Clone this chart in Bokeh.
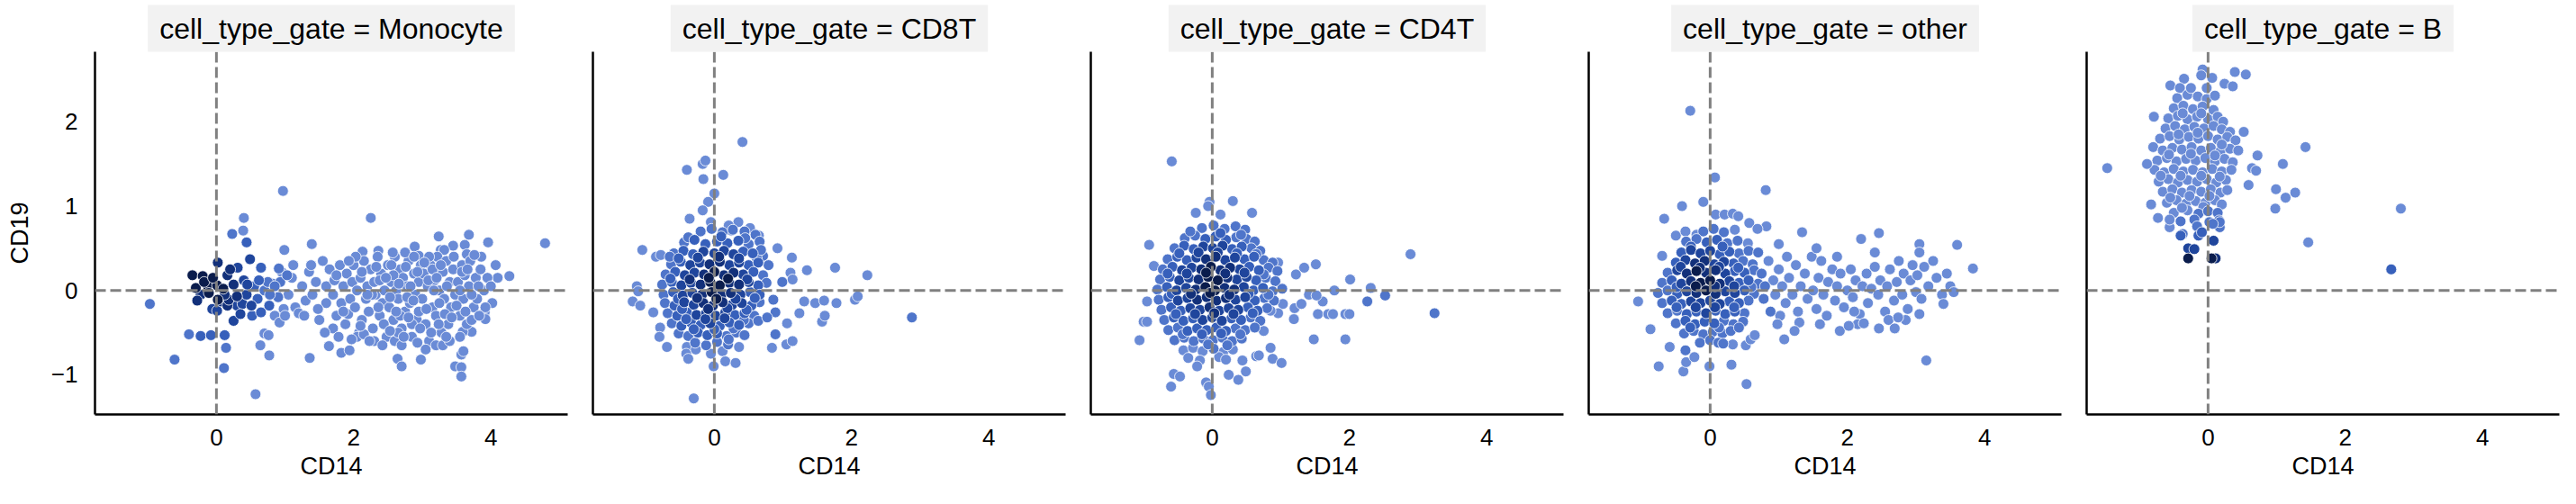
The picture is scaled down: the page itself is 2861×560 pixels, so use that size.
from bokeh.plotting import figure
from bokeh.models import ColumnDataSource, Span, FixedTicker, Range1d
from bokeh.layouts import row
from bokeh.embed import file_html
from bokeh.resources import INLINE

# ---------------- data ----------------
PANELS = ["Monocyte", "CD8T", "CD4T", "other", "B"]
X_LABEL = "CD14"
Y_LABEL = "CD19"
X_TICKS = [0, 2, 4]
Y_TICKS = [-1, 0, 1, 2]
X_LIMITS = (-1.77, 5.12)
Y_LIMITS = (-1.47, 2.83)
# colour level of each point: 0 = light ... 5 = darkest
HUE_COLORS = ["#6a8bd6", "#4f75ca", "#3760bb", "#1f459c", "#12307a", "#0a1c4c"]

# (CD14, CD19, colour level)
monocyte_pts = [
    (-0.35, 0.18, 5), (-0.20, 0.17, 5), (-0.30, 0.03, 5), (-0.13, 0.06, 5), (0.02, 0.33, 4),
    (0.16, 0.18, 4), (0.31, 0.27, 3), (0.49, 0.37, 3), (0.65, 0.27, 2), (0.25, 0.07, 4),
    (0.40, 0.12, 3), (0.01, 0.06, 5), (-0.11, -0.03, 5), (-0.23, -0.05, 4), (0.02, -0.11, 5),
    (0.07, -0.13, 4), (-0.06, -0.22, 3), (0.01, -0.24, 3), (0.16, -0.18, 4), (0.30, -0.18, 3),
    (0.38, -0.16, 3), (0.51, -0.18, 3), (0.25, -0.36, 3), (0.18, -0.11, 4), (0.44, -0.05, 3),
    (0.52, -0.30, 2), (0.65, -0.26, 2), (0.77, -0.18, 2), (0.90, -0.07, 1), (0.30, -0.07, 4),
    (0.45, 0.07, 3), (0.82, 0.08, 1), (0.93, 0.10, 1), (0.91, 0.26, 1), (1.03, 0.18, 1),
    (0.55, 0.05, 2), (0.60, -0.10, 2), (0.70, 0.00, 1), (0.62, 0.12, 2), (-0.18, 0.10, 5),
    (0.10, 0.02, 5), (-0.05, 0.15, 5), (0.12, -0.05, 4), (-0.28, -0.12, 4), (0.20, 0.25, 4),
    (0.35, -0.28, 3),
    (-0.97, -0.16, 1), (-0.61, -0.82, 1), (-0.40, -0.52, 1), (-0.23, -0.54, 2), (-0.08, -0.53, 2),
    (0.12, -0.53, 2), (0.14, -0.68, 1), (0.11, -0.92, 1), (0.57, -1.23, 0), (0.40, 0.86, 0),
    (0.39, 0.71, 0), (0.23, 0.67, 1), (0.44, 0.57, 2), (0.97, 1.18, 0), (0.99, 0.48, 0),
    (1.39, 0.55, 0), (2.25, 0.86, 0), (4.79, 0.56, 0), (0.64, -0.65, 0), (0.77, -0.77, 0),
    (0.70, -0.51, 0), (0.76, -0.53, 0), (1.36, -0.80, 0), (1.64, -0.66, 0), (1.82, -0.74, 0),
    (1.94, -0.71, 0), (2.64, -0.81, 0), (2.70, -0.90, 0), (2.98, -0.82, 0), (3.48, -0.90, 0),
    (3.57, -0.91, 0), (3.57, -1.02, 0), (3.57, -0.76, 0), (3.24, 0.64, 0), (3.68, 0.66, 0),
    (3.96, 0.57, 0), (3.45, 0.53, 0), (3.62, 0.54, 0), (3.86, 0.40, 0), (4.07, 0.30, 0),
    (4.27, 0.17, 0), (4.10, 0.15, 0), (4.02, -0.15, 0), (3.91, -0.26, 0), (3.92, -0.34, 0),
    (3.72, -0.49, 0), (3.59, -0.49, 0), (2.89, 0.52, 0), (2.36, 0.47, 0), (2.13, 0.46, 0),
    (2.95, 0.41, 0), (3.27, 0.48, 0), (3.32, 0.48, 0), (3.65, 0.43, 0),
    (0.75, 0.10, 1), (0.85, 0.05, 1), (0.90, -0.08, 1), (0.78, -0.05, 1), (0.95, 0.22, 0),
    (0.98, -0.22, 0), (0.85, -0.30, 0), (0.92, -0.38, 0),
    (1.05, -0.05, 0), (1.10, 0.15, 0), (1.15, -0.20, 0), (1.20, -0.27, 0), (1.25, 0.05, 0),
    (1.30, -0.12, 0), (1.35, 0.22, 0), (1.40, -0.05, 0), (1.45, 0.10, 0), (1.50, -0.35, 0),
    (1.55, 0.35, 0), (1.60, -0.15, 0), (1.60, 0.05, 0), (1.00, -0.30, 0), (1.12, 0.30, 0),
    (1.28, -0.30, 0), (1.48, -0.22, 0), (1.38, 0.30, 0),
    (1.65, 0.25, 0), (1.70, -0.05, 0), (1.72, 0.12, 0), (1.75, -0.30, 0), (1.80, 0.30, 0),
    (1.82, -0.15, 0), (1.85, 0.05, 0), (1.88, -0.40, 0), (1.90, 0.20, 0), (1.95, -0.10, 0),
    (1.98, 0.10, 0), (1.70, -0.45, 0), (1.78, -0.55, 0), (1.92, -0.28, 0),
    (2.00, 0.30, 0), (2.02, -0.20, 0), (2.05, 0.00, 0), (2.08, -0.50, 0), (2.10, 0.15, 0),
    (2.12, -0.35, 0), (2.15, 0.35, 0), (2.18, -0.10, 0), (2.20, 0.05, 0), (2.22, -0.25, 0),
    (2.25, 0.25, 0), (2.28, -0.45, 0), (2.30, 0.10, 0), (2.32, -0.05, 0), (2.35, 0.40, 0),
    (2.38, -0.30, 0), (2.40, 0.20, 0), (2.42, -0.15, 0), (2.45, 0.00, 0), (2.48, -0.55, 0),
    (2.50, 0.30, 0), (2.05, -0.55, 0), (2.15, -0.52, 0), (2.30, -0.60, 0), (2.42, -0.65, 0),
    (2.12, 0.22, 0), (2.27, -0.05, 0), (2.38, 0.12, 0),
    (2.52, -0.20, 0), (2.55, 0.10, 0), (2.58, -0.35, 0), (2.60, 0.40, 0), (2.62, 0.00, 0),
    (2.65, -0.10, 0), (2.68, 0.25, 0), (2.70, -0.45, 0), (2.72, 0.15, 0), (2.75, -0.25, 0),
    (2.78, 0.05, 0), (2.80, 0.35, 0), (2.82, -0.15, 0), (2.85, -0.55, 0), (2.88, 0.20, 0),
    (2.90, -0.05, 0), (2.92, -0.35, 0), (2.95, 0.10, 0), (2.98, 0.30, 0), (2.60, -0.60, 0),
    (2.70, -0.65, 0), (2.55, 0.30, 0), (2.65, -0.50, 0), (2.75, 0.45, 0), (2.85, -0.40, 0),
    (2.95, -0.25, 0), (2.58, 0.18, 0), (2.68, -0.30, 0), (2.78, -0.08, 0), (2.88, 0.40, 0),
    (3.00, -0.10, 0), (3.02, 0.20, 0), (3.05, -0.40, 0), (3.08, 0.05, 0), (3.10, -0.60, 0),
    (3.12, 0.30, 0), (3.15, -0.20, 0), (3.18, 0.12, 0), (3.20, -0.30, 0), (3.22, 0.40, 0),
    (3.25, 0.00, 0), (3.28, -0.50, 0), (3.30, 0.22, 0), (3.32, -0.10, 0), (3.35, 0.35, 0),
    (3.38, -0.40, 0), (3.40, 0.10, 0), (3.42, -0.20, 0), (3.45, 0.25, 0), (3.48, -0.05, 0),
    (3.05, -0.70, 0), (3.10, 0.40, 0), (3.20, -0.65, 0), (3.30, -0.65, 0), (3.40, -0.60, 0),
    (3.15, 0.25, 0), (3.25, -0.15, 0),
    (3.52, 0.10, 0), (3.55, -0.30, 0), (3.58, 0.30, 0), (3.60, -0.10, 0), (3.62, 0.18, 0),
    (3.65, -0.40, 0), (3.68, 0.05, 0), (3.70, 0.35, 0), (3.75, -0.20, 0), (3.78, 0.15, 0),
    (3.80, -0.10, 0), (3.85, 0.25, 0), (3.90, 0.00, 0), (3.92, -0.20, 0), (3.95, 0.15, 0),
    (4.00, 0.05, 0), (3.55, -0.55, 0), (3.72, -0.35, 0), (3.82, 0.05, 0), (3.60, -0.72, 0),
    (3.58, 0.22, 0),
    (2.03, 0.40, 0), (2.10, -0.42, 0), (2.20, -0.05, 0), (2.33, 0.28, 0), (2.36, -0.20, 0),
    (2.44, -0.40, 0), (2.47, 0.15, 0), (2.53, -0.08, 0), (2.57, 0.45, 0), (2.62, -0.25, 0),
    (2.66, 0.08, 0), (2.73, -0.55, 0), (2.76, 0.28, 0), (2.80, -0.32, 0), (2.83, 0.05, 0),
    (2.87, -0.12, 0), (2.93, 0.22, 0), (2.97, -0.45, 0), (3.03, 0.33, 0), (3.06, -0.22, 0),
    (3.09, 0.12, 0), (3.13, -0.50, 0), (3.17, 0.00, 0), (3.21, 0.15, 0), (3.24, -0.40, 0),
    (3.27, 0.30, 0), (3.33, -0.28, 0), (3.36, 0.05, 0), (3.43, -0.32, 0), (3.46, 0.40, 0),
    (3.50, -0.18, 0), (3.55, 0.00, 0), (3.63, -0.25, 0), (3.66, 0.25, 0), (3.72, -0.05, 0),
    (3.76, 0.42, 0), (3.83, -0.30, 0), (1.75, 0.18, 0), (1.85, -0.25, 0), (1.93, 0.35, 0),
    (2.23, -0.60, 0), (2.53, -0.48, 0), (2.93, -0.62, 0), (3.35, -0.55, 0), (1.58, -0.50, 0),
    (1.97, -0.58, 0),
]

cd8t_pts = [
    (-0.20, 0.70, 1), (-0.04, 0.73, 1), (0.12, 0.69, 1), (0.27, 0.72, 1), (0.44, 0.70, 1), (0.60, 0.66, 1),
    (-0.44, 0.57, 1), (-0.29, 0.60, 2), (-0.13, 0.55, 2), (0.04, 0.58, 2), (0.19, 0.56, 2), (0.35, 0.59, 2),
    (0.50, 0.55, 1), (0.66, 0.58, 1),
    (-0.59, 0.44, 1), (-0.45, 0.47, 2), (-0.31, 0.43, 2), (-0.16, 0.46, 3), (0.00, 0.44, 3), (0.14, 0.47, 3),
    (0.28, 0.43, 3), (0.42, 0.46, 2), (0.56, 0.44, 2), (0.71, 0.41, 1),
    (-0.63, 0.31, 1), (-0.49, 0.34, 2), (-0.35, 0.30, 3), (-0.21, 0.33, 3), (-0.07, 0.31, 4), (0.08, 0.34, 4),
    (0.22, 0.30, 3), (0.36, 0.33, 3), (0.50, 0.30, 2), (0.64, 0.33, 2), (0.79, 0.30, 1),
    (-0.71, 0.19, 1), (-0.57, 0.22, 2), (-0.43, 0.18, 3), (-0.29, 0.21, 3), (-0.15, 0.19, 4), (0.00, 0.22, 5),
    (0.14, 0.18, 4), (0.28, 0.21, 4), (0.42, 0.19, 3), (0.57, 0.22, 2), (0.71, 0.18, 1),
    (-0.76, 0.07, 1), (-0.62, 0.10, 2), (-0.48, 0.06, 3), (-0.34, 0.09, 3), (-0.20, 0.07, 4), (-0.06, 0.10, 5),
    (0.08, 0.06, 5), (0.22, 0.09, 4), (0.36, 0.07, 4), (0.50, 0.10, 3), (0.64, 0.06, 2), (0.76, 0.09, 1),
    (-0.74, -0.05, 1), (-0.60, -0.02, 2), (-0.46, -0.06, 3), (-0.32, -0.03, 3), (-0.18, -0.05, 4),
    (-0.04, -0.02, 5), (0.10, -0.06, 4), (0.24, -0.03, 4), (0.38, -0.05, 3), (0.52, -0.02, 2), (0.66, -0.05, 2),
    (-0.72, -0.15, 1), (-0.58, -0.18, 2), (-0.44, -0.14, 3), (-0.30, -0.17, 3), (-0.16, -0.15, 4),
    (-0.02, -0.18, 4), (0.12, -0.14, 4), (0.26, -0.17, 3), (0.40, -0.15, 3), (0.54, -0.18, 2), (0.66, -0.14, 1),
    (-0.68, -0.27, 1), (-0.54, -0.30, 2), (-0.40, -0.26, 2), (-0.26, -0.29, 3), (-0.12, -0.27, 3),
    (0.02, -0.30, 3), (0.16, -0.26, 3), (0.30, -0.29, 2), (0.44, -0.27, 2), (0.58, -0.30, 1),
    (-0.62, -0.39, 1), (-0.48, -0.42, 2), (-0.34, -0.38, 2), (-0.20, -0.41, 2), (-0.06, -0.39, 3),
    (0.08, -0.42, 2), (0.22, -0.38, 2), (0.36, -0.41, 2), (0.50, -0.39, 1),
    (-0.52, -0.51, 1), (-0.38, -0.54, 1), (-0.24, -0.50, 2), (-0.10, -0.53, 2), (0.04, -0.51, 2),
    (0.18, -0.54, 1), (0.32, -0.50, 1), (0.44, -0.53, 1),
    (-0.28, -0.62, 1), (-0.12, -0.65, 1), (0.04, -0.61, 1), (0.20, -0.64, 1),
    (-0.38, 0.63, 1), (0.10, 0.64, 2), (0.45, 0.62, 1), (-0.52, 0.38, 2), (-0.24, 0.39, 3), (0.07, 0.40, 4),
    (0.36, 0.38, 3), (0.62, 0.38, 1), (-0.64, 0.14, 2), (-0.36, 0.13, 4), (-0.08, 0.15, 5), (0.20, 0.14, 5),
    (0.48, 0.13, 3), (-0.53, -0.10, 2), (-0.25, -0.09, 4), (0.03, -0.10, 5), (0.31, -0.10, 3),
    (0.59, -0.09, 2), (-0.47, -0.22, 2), (-0.09, -0.22, 4), (0.19, -0.21, 3), (0.47, -0.23, 2),
    (-0.41, -0.34, 2), (-0.13, -0.34, 3), (0.15, -0.33, 3), (0.43, -0.35, 1), (-0.30, -0.46, 2),
    (0.00, -0.46, 2), (0.28, -0.45, 1), (-0.05, -0.75, 0), (0.12, -0.72, 0),
    (0.41, 1.76, 0), (-0.40, 1.43, 0), (-0.17, 1.50, 0), (-0.13, 1.54, 0), (-0.16, 1.32, 0), (0.13, 1.37, 0),
    (0.00, 1.15, 0), (-0.09, 1.05, 0), (-0.17, 0.95, 0), (-0.36, 0.85, 0), (-0.05, 0.81, 0), (-1.05, 0.48, 0),
    (-0.85, 0.40, 0), (-0.78, 0.42, 0), (-0.65, 0.40, 1), (-1.13, 0.05, 0), (-1.11, -0.01, 0),
    (-1.19, -0.13, 0), (-1.08, -0.18, 0), (-0.89, -0.26, 0), (-0.79, -0.44, 0), (-0.80, -0.55, 0),
    (-0.69, -0.67, 0), (-0.40, -0.67, 0), (-0.41, -0.75, 0), (-0.38, -0.81, 0), (-0.27, -0.70, 0),
    (-0.01, -0.90, 0), (0.16, -0.84, 0), (0.31, -0.86, 0), (-0.30, -1.28, 0), (0.36, -0.67, 0),
    (0.21, -0.58, 1), (0.84, -0.68, 0), (1.05, -0.64, 0), (1.14, -0.60, 0), (0.89, -0.52, 1),
    (1.06, -0.39, 0), (1.24, -0.27, 0), (1.57, -0.37, 0), (1.61, -0.30, 0), (1.31, -0.13, 0),
    (1.47, -0.15, 0), (1.60, -0.12, 0), (1.78, -0.15, 0), (2.05, -0.11, 0), (2.09, -0.07, 0),
    (2.88, -0.32, 1), (2.23, 0.18, 0), (1.76, 0.27, 0), (1.35, 0.24, 0), (1.13, 0.39, 0), (0.92, 0.50, 0),
    (1.11, 0.21, 0), (1.14, 0.13, 0), (0.99, 0.10, 1), (0.86, -0.11, 1), (0.89, -0.26, 1), (0.64, -0.36, 1),
    (0.77, -0.32, 1), (0.35, 0.81, 0), (0.52, 0.74, 0), (0.65, 0.65, 0), (0.68, 0.48, 1), (0.25, 0.71, 0),
    (0.21, 0.77, 0),
]

cd4t_pts = [
    (-0.15, 0.74, 1), (0.02, 0.77, 1), (0.18, 0.73, 1), (0.34, 0.76, 1), (0.48, 0.72, 1),
    (-0.40, 0.62, 1), (-0.25, 0.65, 1), (-0.10, 0.61, 2), (0.05, 0.64, 2), (0.20, 0.60, 2), (0.35, 0.63, 1),
    (0.50, 0.61, 1), (0.62, 0.58, 1),
    (-0.55, 0.50, 1), (-0.41, 0.53, 2), (-0.27, 0.49, 2), (-0.13, 0.52, 3), (0.01, 0.50, 3), (0.15, 0.53, 3),
    (0.29, 0.49, 2), (0.43, 0.52, 2), (0.57, 0.50, 1), (0.70, 0.47, 1),
    (-0.65, 0.37, 1), (-0.51, 0.40, 2), (-0.37, 0.36, 2), (-0.23, 0.39, 3), (-0.09, 0.37, 4), (0.05, 0.40, 4),
    (0.19, 0.36, 3), (0.33, 0.39, 3), (0.47, 0.37, 2), (0.61, 0.40, 2), (0.75, 0.36, 1), (0.88, 0.33, 1),
    (-0.72, 0.25, 1), (-0.58, 0.28, 2), (-0.44, 0.24, 3), (-0.30, 0.27, 3), (-0.16, 0.25, 4), (-0.02, 0.28, 5),
    (0.12, 0.24, 4), (0.26, 0.27, 4), (0.40, 0.25, 3), (0.54, 0.28, 2), (0.68, 0.24, 2), (0.82, 0.27, 1),
    (0.95, 0.23, 1),
    (-0.76, 0.13, 1), (-0.62, 0.16, 2), (-0.48, 0.12, 3), (-0.34, 0.15, 3), (-0.20, 0.13, 4), (-0.06, 0.16, 5),
    (0.08, 0.12, 5), (0.22, 0.15, 4), (0.36, 0.13, 3), (0.50, 0.16, 3), (0.64, 0.12, 2), (0.78, 0.15, 1),
    (0.92, 0.11, 1),
    (-0.80, 0.01, 1), (-0.66, 0.04, 2), (-0.52, 0.00, 3), (-0.38, 0.03, 3), (-0.24, 0.01, 4), (-0.10, 0.04, 5),
    (0.04, 0.00, 5), (0.18, 0.03, 4), (0.32, 0.01, 4), (0.46, 0.04, 3), (0.60, 0.00, 2), (0.74, 0.03, 2),
    (0.88, -0.01, 1), (1.02, 0.02, 1),
    (-0.78, -0.11, 1), (-0.64, -0.08, 2), (-0.50, -0.12, 3), (-0.36, -0.09, 3), (-0.22, -0.11, 4),
    (-0.08, -0.08, 4), (0.06, -0.12, 4), (0.20, -0.09, 4), (0.34, -0.11, 3), (0.48, -0.08, 3),
    (0.62, -0.12, 2), (0.76, -0.09, 1), (0.90, -0.12, 1),
    (-0.74, -0.23, 1), (-0.60, -0.20, 2), (-0.46, -0.24, 2), (-0.32, -0.21, 3), (-0.18, -0.23, 3),
    (-0.04, -0.20, 4), (0.10, -0.24, 3), (0.24, -0.21, 3), (0.38, -0.23, 3), (0.52, -0.20, 2),
    (0.66, -0.24, 2), (0.80, -0.21, 1),
    (-0.70, -0.35, 1), (-0.56, -0.32, 2), (-0.42, -0.36, 2), (-0.28, -0.33, 2), (-0.14, -0.35, 3),
    (0.00, -0.32, 3), (0.14, -0.36, 3), (0.28, -0.33, 2), (0.42, -0.35, 2), (0.56, -0.32, 1), (0.70, -0.36, 1),
    (-0.64, -0.47, 1), (-0.50, -0.44, 1), (-0.36, -0.48, 2), (-0.22, -0.45, 2), (-0.08, -0.47, 2),
    (0.06, -0.44, 2), (0.20, -0.48, 2), (0.34, -0.45, 1), (0.48, -0.47, 1), (0.62, -0.44, 1),
    (-0.55, -0.59, 1), (-0.41, -0.56, 1), (-0.27, -0.60, 1), (-0.13, -0.57, 1), (0.01, -0.59, 1),
    (0.15, -0.56, 1), (0.29, -0.60, 1), (0.43, -0.57, 1),
    (-0.42, -0.71, 0), (-0.28, -0.68, 0), (-0.14, -0.72, 0), (0.02, -0.69, 1), (0.16, -0.73, 0), (0.30, -0.70, 0),
    (-0.35, -0.80, 0), (-0.18, -0.83, 0), (0.10, -0.79, 0), (0.20, -0.82, 0),
    (-0.32, 0.70, 1), (0.12, 0.68, 2), (0.42, 0.66, 1), (-0.48, 0.44, 2), (-0.20, 0.45, 3), (0.08, 0.45, 3),
    (0.36, 0.44, 2), (0.64, 0.43, 1), (-0.65, 0.20, 2), (-0.37, 0.20, 3), (-0.09, 0.21, 5), (0.19, 0.20, 4),
    (0.47, 0.21, 3), (0.75, 0.19, 1), (-0.59, -0.04, 2), (-0.31, -0.04, 4), (-0.03, -0.03, 5),
    (0.25, -0.05, 4), (0.53, -0.04, 2), (0.82, -0.05, 1), (-0.53, -0.28, 2), (-0.25, -0.28, 3),
    (0.03, -0.27, 4), (0.31, -0.28, 3), (0.59, -0.27, 2), (-0.43, -0.52, 1), (-0.15, -0.52, 2),
    (0.13, -0.51, 2), (0.41, -0.52, 1), (-0.06, -0.64, 1), (0.22, -0.65, 1),
    (-0.59, 1.53, 0), (-0.04, 1.05, 0), (-0.06, 1.00, 0), (0.30, 1.06, 0), (0.58, 0.92, 0), (0.12, 0.90, 0),
    (-0.24, 0.92, 0), (-0.92, 0.54, 0), (-0.85, 0.29, 0), (-0.95, -0.13, 0), (-1.00, -0.37, 0),
    (-0.95, -0.37, 0), (-1.06, -0.59, 0), (-0.60, -1.14, 0), (-0.56, -0.99, 0), (-0.47, -1.02, 0),
    (-0.09, -1.09, 0), (-0.05, -1.14, 0), (-0.02, -1.24, 0), (0.24, -1.00, 0), (0.38, -1.06, 0),
    (0.49, -0.96, 0), (0.44, -0.83, 0), (0.64, -0.78, 0), (0.68, -0.77, 0), (0.85, -0.68, 0),
    (0.88, -0.81, 0), (1.01, -0.86, 0), (-0.22, -0.90, 0), (0.75, -0.48, 0), (1.48, -0.58, 0),
    (1.94, -0.58, 0), (1.19, -0.34, 0), (1.20, -0.21, 0), (1.54, -0.28, 0), (1.69, -0.28, 0),
    (1.76, -0.28, 0), (1.94, -0.28, 0), (2.00, -0.28, 0), (3.24, -0.27, 1), (2.26, -0.13, 1),
    (2.52, -0.06, 1), (2.31, 0.03, 0), (2.01, 0.13, 0), (1.78, 0.00, 0), (1.51, 0.31, 0), (1.34, 0.27, 0),
    (1.22, 0.19, 0), (2.89, 0.43, 0), (1.61, -0.13, 0), (1.41, -0.05, 0), (1.52, -0.06, 0), (0.96, 0.33, 0),
    (1.30, -0.16, 0), (1.03, -0.16, 0), (0.96, -0.27, 0), (0.85, -0.24, 0),
]

other_pts = [
    (-0.10, 0.70, 1), (0.05, 0.73, 1), (0.20, 0.69, 1), (0.36, 0.72, 0),
    (-0.35, 0.58, 1), (-0.20, 0.61, 1), (-0.05, 0.57, 2), (0.10, 0.60, 2), (0.25, 0.56, 1), (0.40, 0.59, 1),
    (0.55, 0.56, 0),
    (-0.42, 0.45, 2), (-0.28, 0.48, 3), (-0.14, 0.44, 3), (0.00, 0.47, 3), (0.14, 0.43, 2), (0.28, 0.46, 2),
    (0.42, 0.44, 1), (0.56, 0.47, 1),
    (-0.50, 0.33, 2), (-0.36, 0.36, 3), (-0.22, 0.32, 4), (-0.08, 0.35, 4), (0.06, 0.31, 3), (0.20, 0.34, 3),
    (0.34, 0.32, 2), (0.48, 0.35, 1), (0.62, 0.31, 1),
    (-0.62, 0.21, 1), (-0.48, 0.24, 3), (-0.34, 0.20, 4), (-0.20, 0.23, 5), (-0.06, 0.21, 4), (0.08, 0.24, 4),
    (0.22, 0.20, 3), (0.36, 0.23, 2), (0.50, 0.21, 2), (0.64, 0.24, 1),
    (-0.70, 0.09, 1), (-0.56, 0.12, 2), (-0.42, 0.08, 3), (-0.28, 0.11, 4), (-0.14, 0.09, 5), (0.00, 0.12, 5),
    (0.14, 0.08, 4), (0.28, 0.11, 3), (0.42, 0.09, 2), (0.56, 0.12, 2), (0.70, 0.08, 1),
    (-0.76, -0.03, 1), (-0.62, 0.00, 1), (-0.48, -0.04, 2), (-0.34, -0.01, 3), (-0.20, -0.03, 4),
    (-0.06, 0.00, 5), (0.08, -0.04, 4), (0.22, -0.01, 3), (0.36, -0.03, 3), (0.50, 0.00, 2), (0.64, -0.04, 1),
    (-0.70, -0.15, 1), (-0.56, -0.12, 2), (-0.42, -0.16, 2), (-0.28, -0.13, 3), (-0.14, -0.15, 3),
    (0.00, -0.12, 3), (0.14, -0.16, 3), (0.28, -0.13, 2), (0.42, -0.15, 2), (0.56, -0.12, 1),
    (-0.62, -0.27, 1), (-0.48, -0.24, 1), (-0.34, -0.28, 2), (-0.20, -0.25, 2), (-0.06, -0.27, 3),
    (0.08, -0.24, 2), (0.22, -0.28, 2), (0.36, -0.25, 2), (0.50, -0.27, 1),
    (-0.50, -0.39, 1), (-0.36, -0.36, 2), (-0.22, -0.40, 2), (-0.08, -0.37, 2), (0.06, -0.39, 2),
    (0.20, -0.36, 1), (0.34, -0.40, 1), (0.48, -0.37, 1),
    (-0.38, -0.51, 1), (-0.24, -0.48, 1), (-0.10, -0.52, 1), (0.04, -0.49, 1), (0.18, -0.51, 1), (0.30, -0.48, 1),
    (-0.15, -0.62, 1), (0.00, -0.59, 1), (0.12, -0.62, 1),
    (-0.28, 0.52, 2), (0.18, 0.52, 2), (-0.43, 0.28, 3), (-0.15, 0.27, 4), (0.13, 0.28, 3), (0.41, 0.27, 2),
    (-0.49, 0.04, 2), (-0.21, 0.05, 5), (0.07, 0.05, 4), (0.35, 0.05, 3), (0.60, 0.04, 1), (-0.49, -0.20, 2),
    (-0.21, -0.20, 3), (0.07, -0.20, 3), (0.35, -0.20, 2), (-0.29, -0.44, 2), (0.13, -0.44, 1), (0.42, -0.44, 1),
    (0.70, 0.45, 1), (0.75, 0.20, 1), (0.78, -0.10, 1), (0.80, 0.05, 1), (0.85, 0.35, 0), (0.88, -0.25, 1),
    (0.92, 0.12, 0), (0.95, -0.05, 0), (1.00, 0.25, 0), (1.02, -0.30, 0), (1.05, 0.05, 0), (1.10, -0.15, 0),
    (1.12, 0.40, 0), (1.15, 0.15, 0), (1.20, -0.05, 0), (1.25, 0.30, 0), (1.28, -0.25, 0), (1.32, 0.05, 0),
    (1.38, 0.20, 0), (1.42, -0.10, 0), (1.48, 0.40, 0), (1.50, 0.00, 0), (1.55, -0.22, 0), (1.58, 0.15, 0),
    (1.62, 0.35, 0), (1.65, -0.05, 0), (1.70, -0.30, 0), (1.72, 0.10, 0), (1.78, 0.25, 0), (1.82, -0.12, 0),
    (1.85, 0.05, 0), (1.90, 0.20, 0), (1.95, -0.20, 0), (2.00, 0.00, 0), (2.05, 0.25, 0), (2.08, -0.08, 0),
    (2.12, 0.12, 0), (2.18, -0.28, 0), (2.22, 0.05, 0), (2.28, 0.20, 0), (2.30, -0.15, 0), (2.35, 0.02, 0),
    (2.40, 0.28, 0), (2.45, -0.05, 0), (2.48, 0.12, 0), (2.55, -0.25, 0), (2.58, 0.05, 0), (2.62, 0.25, 0),
    (2.68, -0.12, 0), (2.72, 0.10, 0), (2.75, 0.35, 0), (2.80, -0.05, 0), (2.82, 0.20, 0), (2.88, -0.22, 0),
    (2.92, 0.12, 0), (2.95, 0.30, 0), (3.00, -0.02, 0), (3.02, 0.18, 0), (3.08, -0.10, 0), (3.12, 0.28, 0),
    (3.18, 0.05, 0), (3.25, 0.35, 0), (3.30, 0.15, 0), (3.38, -0.05, 0), (3.45, 0.20, 0), (3.50, 0.05, 0),
    (3.55, -0.02, 0), (2.15, -0.40, 0), (2.60, -0.35, 0), (1.60, -0.40, 0), (1.30, -0.38, 0), (0.98, -0.40, 0),
    (2.85, -0.35, 0), (3.05, -0.28, 0), (1.85, 0.40, 0), (2.40, 0.45, 0), (1.55, 0.50, 0), (1.00, 0.55, 0),
    (2.10, -0.25, 0),
    (-0.29, 2.13, 0), (0.07, 1.34, 0), (0.81, 1.19, 0), (-0.10, 1.05, 0), (-0.41, 1.00, 0), (-0.67, 0.85, 0),
    (-0.50, 0.65, 0), (-0.36, 0.70, 0), (-0.20, 0.66, 0), (-0.70, 0.41, 0), (-1.05, -0.13, 0),
    (-0.87, -0.46, 0), (-0.59, -0.67, 0), (-0.75, -0.90, 0), (-0.39, -0.96, 0), (-0.35, -0.85, 0),
    (-0.23, -0.79, 0), (-0.36, -0.71, 1), (-0.01, -0.90, 0), (0.31, -0.88, 0), (0.53, -1.11, 0),
    (0.19, -0.63, 1), (0.33, -0.64, 0), (0.52, -0.65, 0), (0.59, -0.58, 0), (0.65, -0.53, 0), (1.08, -0.58, 0),
    (1.23, -0.48, 0), (3.15, -0.83, 0), (1.89, -0.48, 0), (2.02, -0.42, 0), (2.46, -0.45, 0), (2.69, -0.45, 0),
    (2.24, -0.39, 0), (2.74, -0.32, 0), (3.40, -0.16, 0), (3.60, 0.54, 0), (3.83, 0.26, 0), (3.05, 0.55, 0),
    (3.05, 0.45, 0), (2.46, 0.68, 0), (2.20, 0.61, 0), (1.34, 0.69, 0), (0.57, 0.80, 0), (0.82, 0.76, 0),
    (0.69, 0.73, 0), (0.08, 0.90, 0), (0.21, 0.90, 0), (0.33, 0.91, 0), (0.41, 0.88, 0),
]

b_pts = [
    (-0.08, 2.62, 0), (0.06, 2.52, 0), (-0.10, 2.55, 0), (-0.35, 2.51, 0), (-0.55, 2.43, 0), (-0.41, 2.40, 0),
    (-0.27, 2.34, 0), (0.24, 2.45, 0), (0.36, 2.42, 0), (0.39, 2.59, 0), (0.55, 2.56, 0), (-0.79, 2.06, 0),
    (0.52, 1.88, 0),
    (-0.45, 2.28, 0), (-0.30, 2.32, 0), (-0.15, 2.30, 0), (-0.02, 2.27, 0), (0.10, 2.31, 0),
    (-0.50, 2.16, 0), (-0.36, 2.19, 0), (-0.22, 2.15, 0), (-0.08, 2.18, 0), (0.08, 2.14, 0),
    (-0.58, 2.04, 0), (-0.44, 2.07, 0), (-0.30, 2.03, 0), (-0.16, 2.06, 0), (0.00, 2.03, 0), (0.14, 2.06, 0),
    (0.22, 2.00, 0),
    (-0.62, 1.92, 0), (-0.48, 1.95, 0), (-0.34, 1.91, 0), (-0.20, 1.94, 0), (-0.06, 1.92, 0), (0.08, 1.95, 0),
    (0.20, 1.91, 0), (0.32, 1.88, 0),
    (-0.70, 1.80, 0), (-0.56, 1.83, 0), (-0.42, 1.79, 0), (-0.28, 1.82, 0), (-0.14, 1.80, 0), (0.00, 1.83, 0),
    (0.14, 1.79, 0), (0.28, 1.82, 0), (0.40, 1.78, 0),
    (-0.80, 1.70, 0), (-0.66, 1.66, 0), (-0.52, 1.69, 0), (-0.38, 1.67, 0), (-0.24, 1.70, 0), (-0.10, 1.66, 0),
    (0.04, 1.69, 0), (0.18, 1.65, 0), (0.32, 1.68, 0), (0.44, 1.66, 0),
    (-0.74, 1.54, 0), (-0.60, 1.57, 0), (-0.46, 1.53, 0), (-0.32, 1.56, 0), (-0.18, 1.54, 0), (-0.04, 1.57, 0),
    (0.10, 1.53, 0), (0.24, 1.56, 0), (0.36, 1.52, 0),
    (-0.78, 1.43, 0), (-0.64, 1.40, 0), (-0.50, 1.44, 0), (-0.36, 1.41, 0), (-0.22, 1.43, 0), (-0.08, 1.40, 0),
    (0.06, 1.44, 0), (0.20, 1.41, 0), (0.34, 1.43, 0),
    (-0.72, 1.29, 0), (-0.58, 1.32, 0), (-0.44, 1.28, 0), (-0.30, 1.31, 0), (-0.16, 1.29, 0), (-0.02, 1.32, 0),
    (0.12, 1.28, 0), (0.26, 1.31, 0),
    (-0.66, 1.17, 0), (-0.52, 1.20, 0), (-0.38, 1.16, 0), (-0.24, 1.19, 0), (-0.10, 1.17, 0), (0.04, 1.20, 0),
    (0.18, 1.16, 0), (0.28, 1.19, 0),
    (-0.60, 1.04, 0), (-0.46, 1.07, 0), (-0.32, 1.03, 0), (-0.18, 1.06, 0), (-0.04, 1.04, 0), (0.10, 1.07, 0),
    (0.20, 1.02, 0),
    (-0.50, 0.92, 0), (-0.30, 0.95, 0), (-0.14, 0.91, 1), (0.00, 0.94, 1), (0.14, 0.92, 1),
    (-0.40, 0.82, 1), (-0.20, 0.84, 1), (0.02, 0.81, 1), (0.16, 0.83, 1),
    (-0.43, 1.85, 0), (-0.15, 1.87, 0), (0.20, 1.73, 0), (-0.57, 1.61, 0), (-0.25, 1.62, 0), (0.10, 1.60, 0),
    (-0.69, 1.36, 0), (-0.40, 1.36, 0), (-0.10, 1.36, 0), (0.17, 1.35, 0), (-0.55, 1.10, 0), (-0.27, 1.12, 0),
    (0.02, 1.12, 0), (-0.38, 0.98, 0), (-0.07, 0.99, 0), (-0.37, 2.10, 0), (-0.10, 2.10, 0), (-0.25, 2.40, 0),
    (-0.02, 2.40, 0),
    (-1.47, 1.45, 0), (-0.89, 1.50, 0), (-0.83, 1.02, 0), (-0.73, 0.86, 0), (-0.79, 2.06, 0),
    (0.72, 1.60, 0), (1.42, 1.70, 0), (1.09, 1.50, 0), (0.64, 1.45, 0), (0.70, 1.42, 0), (0.59, 1.25, 0),
    (0.99, 1.20, 0), (1.27, 1.16, 0), (1.13, 1.10, 0), (0.98, 0.97, 0), (2.81, 0.97, 0), (1.46, 0.57, 0),
    (2.67, 0.25, 2), (-0.29, 0.38, 5), (0.05, 0.38, 5), (0.11, 0.38, 4), (-0.29, 0.50, 3), (-0.20, 0.49, 3),
    (0.08, 0.59, 3), (-0.40, 0.65, 2), (-0.37, 0.67, 1), (-0.14, 0.65, 2), (-0.09, 0.69, 2), (0.17, 0.75, 1),
    (0.17, 0.81, 1), (-0.56, 0.75, 0), (-0.56, 0.84, 0), (-0.16, 0.76, 1), (0.07, 0.79, 1),
]

PANEL_POINTS = [monocyte_pts, cd8t_pts, cd4t_pts, other_pts, b_pts]

# ---------------- drawing ----------------
FONT = "Liberation Sans"
FRAME_W, FRAME_H = 525, 403
TOP, BOTTOM = 57, 100

figs = []
for i, (name, pts) in enumerate(zip(PANELS, PANEL_POINTS)):
    left = 105 if i == 0 else 14
    right = 15 if i == len(PANELS) - 1 else 14
    p = figure(width=left + FRAME_W + right, height=TOP + FRAME_H + BOTTOM,
               x_range=Range1d(*X_LIMITS), y_range=Range1d(*Y_LIMITS),
               output_backend="svg", toolbar_location=None,
               min_border_left=left, min_border_right=right,
               min_border_top=TOP, min_border_bottom=BOTTOM)
    p.outline_line_color = None
    p.xgrid.visible = False
    p.ygrid.visible = False
    p.background_fill_color = "white"

    p.title.text = f"cell_type_gate = {name}"
    p.title.align = "center"
    p.title.text_font = FONT
    p.title.text_font_size = "32px"
    p.title.text_font_style = "normal"
    p.title.text_color = "black"
    p.title.background_fill_color = "#f2f2f2"
    p.title.padding = dict(left=13, right=13, top=8, bottom=8)
    p.title.standoff = 0

    srt = sorted(pts, key=lambda t: t[2])
    src = ColumnDataSource(dict(
        x=[t[0] for t in srt], y=[t[1] for t in srt],
        c=[HUE_COLORS[t[2]] for t in srt]))
    p.scatter("x", "y", source=src, size=12, fill_color="c",
              line_color="white", line_width=0.8)

    for dim in ("width", "height"):
        p.add_layout(Span(location=0, dimension=dim, line_color="#808080",
                          line_width=3, line_dash="12 5"))

    xa = p.xaxis[0]
    xa.ticker = FixedTicker(ticks=X_TICKS)
    xa.axis_label = X_LABEL
    ya = p.yaxis[0]
    if i == 0:
        ya.ticker = FixedTicker(ticks=Y_TICKS)
        ya.major_label_overrides = {t: (f"\u2212{abs(t)}" if t < 0 else str(t)) for t in Y_TICKS}
        ya.axis_label = Y_LABEL
    else:
        ya.ticker = FixedTicker(ticks=[])
    for ax in (xa, ya):
        ax.axis_line_color = "black"
        ax.axis_line_width = 2.5
        ax.major_tick_line_color = None
        ax.minor_tick_line_color = None
        ax.major_tick_out = 0
        ax.major_tick_in = 0
        ax.major_label_text_font = FONT
        ax.major_label_text_font_size = "26px"
        ax.major_label_text_color = "black"
        ax.axis_label_text_font = FONT
        ax.axis_label_text_font_size = "27px"
        ax.axis_label_text_font_style = "normal"
        ax.axis_label_text_color = "black"
    xa.major_label_standoff = 16
    xa.axis_label_standoff = 5
    ya.major_label_standoff = 19
    ya.axis_label_standoff = 17
    figs.append(p)

layout = row(*figs, spacing=0)
open("out.html", "w").write(file_html(layout, INLINE))
